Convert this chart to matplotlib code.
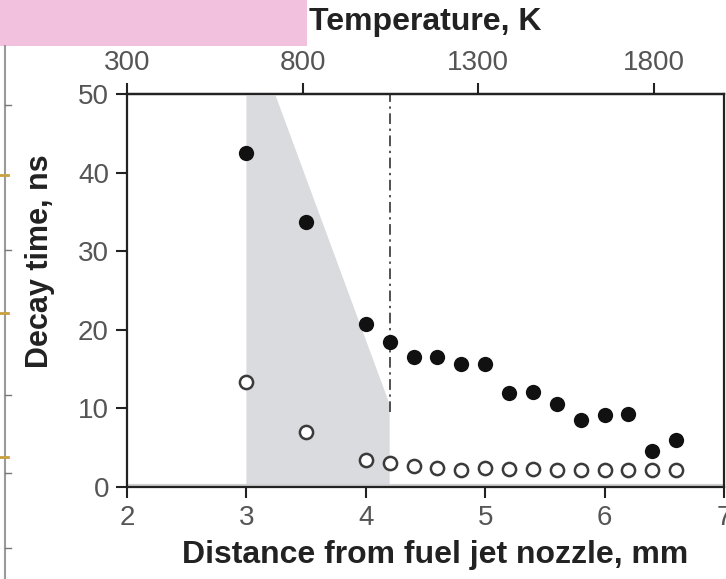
import matplotlib
matplotlib.use("Agg")
import matplotlib.pyplot as plt
from matplotlib.patches import Polygon, Rectangle
from matplotlib.lines import Line2D

plt.rcParams['font.family'] = ['Liberation Sans', 'DejaVu Sans']

# Data
distance = [3.0, 3.5, 4.0, 4.2, 4.4, 4.6, 4.8, 5.0, 5.2, 5.4, 5.6, 5.8, 6.0, 6.2, 6.4, 6.6]
decay_filled = [42.5, 33.7, 20.7, 18.4, 16.6, 16.5, 15.6, 15.7, 12.0, 12.1, 10.6, 8.5, 9.1, 9.3, 4.6, 6.0]
decay_open = [13.4, 7.0, 3.4, 3.1, 2.7, 2.4, 2.2, 2.4, 2.3, 2.3, 2.2, 2.2, 2.2, 2.2, 2.2, 2.2]
shade_x = [3.0, 3.0, 3.24, 4.2, 4.2]
shade_y = [0, 50, 50, 10.5, 0]
vline_x = 4.2
vline_ymin = 9.5
x_ticks = [2, 3, 4, 5, 6, 7]
y_ticks = [0, 10, 20, 30, 40, 50]
temp_ticks = [300, 800, 1300, 1800]

W, H = 726, 579
L, R, T, B = 127, 724, 94, 487
fig = plt.figure(figsize=(W / 100, H / 100), dpi=100)
ax = fig.add_axes([L / W, 1 - B / H, (R - L) / W, (B - T) / H])

def ax_frac(px, py):
    return (px - L) / (R - L), (B - py) / (B - T)

ax.add_patch(Polygon(list(zip(shade_x, shade_y)), closed=True,
                     facecolor='#d9dbde', edgecolor='none', zorder=1))
ax.plot([vline_x, vline_x], [vline_ymin, 50], color='#222222', lw=1.1,
        dashes=(7, 3, 1.5, 3), zorder=2)
ax.axhline(0.25, color='#cfcfcf', lw=1.5, zorder=1)

ax.plot(distance, decay_filled, 'o', color='#111111', markersize=11,
        markeredgewidth=0, zorder=4)
ax.plot(distance, decay_open, 'o', markerfacecolor='white', markeredgecolor='#3a3a3a',
        markersize=9.5, markeredgewidth=1.8, zorder=4)

ax.set_xlim(2, 7)
ax.set_ylim(0, 50)
ax.set_xticks(x_ticks)
ax.set_yticks(y_ticks)
for s in ax.spines.values():
    s.set_linewidth(1.6)
    s.set_color('#222222')
ax.tick_params(axis='both', direction='out', length=8, width=1.5, color='#222222',
               labelsize=20, labelcolor='#555555', pad=5)

ax.set_xlabel('Distance from fuel jet nozzle, mm', fontsize=23, fontweight='bold',
              color='#222222', va='center')
ax.xaxis.set_label_coords(*ax_frac(435, 555))
ax.set_ylabel('Decay time, ns', fontsize=22, fontweight='bold', color='#222222',
              va='center')
ax.yaxis.set_label_coords(*ax_frac(40, 261))

def x2t(x):
    return 300 + (x - 2) * 340

def t2x(t):
    return 2 + (t - 300) / 340

sec = ax.secondary_xaxis('top', functions=(x2t, t2x))
sec.set_xticks(temp_ticks)
sec.tick_params(direction='out', length=8, width=1.5, color='#222222',
                labelsize=20, labelcolor='#555555', pad=5)
sec.spines['top'].set_linewidth(1.6)
fig.text(425 / W, 1 - 22 / H, 'Temperature, K', fontsize=23, fontweight='bold',
         color='#222222', ha='center', va='center')

# Artifacts of the original scan crop
fig.add_artist(Rectangle((0, 1 - 46 / H), 307 / W, 46 / H, transform=fig.transFigure,
                         facecolor='#f2c1dd', edgecolor='none'))
fig.add_artist(Line2D([5 / W, 5 / W], [0, 1 - 46 / H], transform=fig.transFigure,
                      color='#9a9a9a', lw=1.5))
for yy in [105, 250, 395, 473, 548]:
    fig.add_artist(Line2D([5 / W, 11 / W], [1 - yy / H, 1 - yy / H],
                          transform=fig.transFigure, color='#777777', lw=1))
for yy in [175, 313, 457]:
    fig.add_artist(Line2D([0, 8 / W], [1 - yy / H, 1 - yy / H],
                          transform=fig.transFigure, color='#c8a040', lw=2))

fig.savefig('out.png', dpi=100)
